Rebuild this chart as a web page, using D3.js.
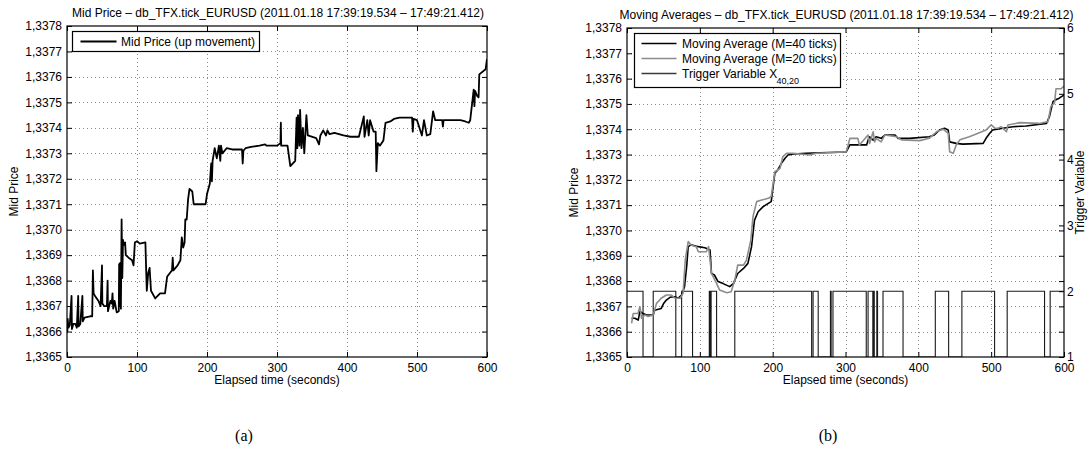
<!DOCTYPE html>
<html><head><meta charset="utf-8">
<script src="https://cdn.jsdelivr.net/npm/d3@7"></script>
<style>
html,body{margin:0;padding:0;background:#fff;}
svg{display:block;font-family:"Liberation Sans",Arial,Helvetica,sans-serif;}
</style></head><body>
<svg id="fig" width="1092" height="459"></svg>
<script>
// ---- tick labels ----
const timeTicks = [0, 100, 200, 300, 400, 500, 600];
const priceTicks = [1.3365, 1.3366, 1.3367, 1.3368, 1.3369, 1.3370, 1.3371, 1.3372, 1.3373, 1.3374, 1.3375, 1.3376, 1.3377, 1.3378];
const triggerTicks = [1, 2, 3, 4, 5, 6];

// ---- (a) mid price, elapsed seconds / price ----
const midTime = [0, 0.5, 1, 2, 4, 6.5, 7, 9, 12, 14, 16, 16.5, 19, 22, 22.5, 25, 33, 36, 37, 38, 40, 45, 48, 50, 50.5, 53, 57, 58, 58.5, 62, 64, 65, 66, 68, 71, 74, 74.5, 75, 76, 77, 78, 79, 80, 81, 83, 84, 88, 93, 95, 97, 100, 104, 112, 113, 114, 116, 118, 120, 126, 133, 140, 143, 147, 150, 151, 152, 158, 160, 162, 164, 166, 168, 169, 171, 173, 175, 179, 181, 193, 198, 200, 204, 206, 207, 208, 211, 214, 217, 219, 220, 222, 228, 236, 250, 251, 252, 255, 263, 275, 283, 285, 300, 305, 305.5, 306, 315, 319, 326, 328, 329, 330, 332, 333, 335, 337, 339, 342, 344, 356, 360, 362, 366, 370, 372, 375, 382, 395, 405, 417, 424, 425, 429, 431, 433, 438, 441, 442, 444, 447, 452, 455, 462, 467, 475, 493, 494, 495, 500, 507, 510, 514, 519, 523, 526, 536, 537, 538, 562, 569, 574, 576, 581, 582, 583, 586, 588, 589, 598, 600];
const midPrice = [1.33663, 1.33660, 1.33665, 1.336615, 1.336625, 1.33674, 1.33661, 1.33663, 1.33663, 1.336615, 1.33674, 1.33662, 1.33663, 1.33674, 1.33664, 1.336655, 1.33666, 1.33666, 1.33684, 1.33675, 1.33674, 1.33672, 1.33670, 1.33686, 1.33671, 1.33670, 1.33670, 1.33680, 1.33668, 1.33672, 1.33671, 1.33675, 1.33669, 1.33672, 1.336675, 1.33668, 1.336865, 1.33670, 1.33687, 1.33669, 1.33704, 1.33681, 1.33696, 1.33694, 1.33695, 1.33690, 1.33689, 1.33688, 1.33686, 1.33695, 1.336955, 1.336945, 1.33695, 1.33685, 1.33676, 1.33683, 1.33685, 1.33676, 1.33673, 1.33675, 1.33675, 1.336815, 1.33683, 1.33684, 1.33689, 1.33684, 1.33686, 1.33687, 1.33688, 1.33697, 1.33693, 1.33695, 1.33704, 1.33704, 1.33712, 1.33716, 1.33715, 1.33710, 1.33710, 1.33710, 1.33714, 1.33718, 1.33726, 1.33719, 1.33727, 1.33732, 1.33728, 1.33733, 1.33727, 1.33733, 1.33730, 1.33732, 1.337315, 1.337315, 1.33726, 1.33731, 1.33732, 1.337325, 1.33733, 1.337335, 1.33733, 1.33733, 1.33734, 1.33742, 1.33733, 1.33733, 1.33725, 1.33727, 1.33744, 1.33732, 1.33745, 1.33733, 1.33747, 1.33732, 1.33740, 1.33730, 1.33745, 1.33737, 1.33736, 1.337335, 1.33737, 1.33739, 1.33737, 1.33739, 1.337375, 1.33738, 1.33737, 1.337365, 1.337365, 1.337445, 1.337365, 1.33743, 1.33737, 1.33743, 1.337385, 1.337385, 1.33723, 1.33734, 1.33733, 1.33735, 1.33742, 1.337425, 1.337435, 1.33744, 1.33744, 1.337385, 1.337435, 1.33743, 1.33737, 1.33743, 1.33737, 1.337375, 1.337465, 1.33743, 1.33743, 1.337405, 1.33743, 1.33743, 1.337425, 1.33742, 1.33743, 1.33755, 1.337485, 1.337545, 1.337525, 1.33752, 1.33761, 1.33763, 1.33767];

// ---- (b) moving averages ----
const ma40Time = [6.3, 10.8, 15.4, 17.7, 22, 27, 36, 38, 47, 50, 54, 59, 66, 70, 75, 79, 82, 84, 88, 98, 107, 114, 116, 120, 125, 132, 141, 146, 152, 160, 166, 171, 175, 180, 187, 194, 198, 203, 207, 212, 217, 221, 228, 246, 265, 301, 306, 329, 331, 333, 338, 342, 349, 354, 368, 372, 388, 415, 422, 429, 436, 441, 443, 452, 461, 489, 493, 498, 502, 516, 530, 548, 576, 580, 585, 589, 592, 596, 600];
const ma40Value = [1.336653, 1.336653, 1.336646, 1.33668, 1.336672, 1.336666, 1.336666, 1.336685, 1.336692, 1.33671, 1.336725, 1.336736, 1.336738, 1.336732, 1.336745, 1.336778, 1.33686, 1.336936, 1.336943, 1.336936, 1.336932, 1.336923, 1.33683, 1.336824, 1.336798, 1.33679, 1.336778, 1.33679, 1.33683, 1.33685, 1.33687, 1.336936, 1.33704, 1.337074, 1.337094, 1.337107, 1.337114, 1.337226, 1.337239, 1.337265, 1.337285, 1.337298, 1.337302, 1.337305, 1.337307, 1.33731, 1.337338, 1.337338, 1.337357, 1.33737, 1.337357, 1.33737, 1.337364, 1.337377, 1.337377, 1.337364, 1.337364, 1.33737, 1.337377, 1.337397, 1.337404, 1.337397, 1.33735, 1.337344, 1.337341, 1.337344, 1.337364, 1.337384, 1.337397, 1.337404, 1.33741, 1.337413, 1.337423, 1.33745, 1.33751, 1.337517, 1.33752, 1.337528, 1.337535];
const ma20Time = [6.3, 8.6, 15, 17.7, 20, 24.6, 29, 36, 40.5, 47, 54, 61, 66, 73, 77, 80, 84, 88, 95, 98, 109, 112, 116, 123, 127, 137, 143, 148, 152, 160, 164, 170, 173, 178, 185, 194, 198, 203, 210, 214, 219, 228, 251, 260, 301, 306, 317, 319, 331, 333, 338, 340, 342, 349, 354, 370, 377, 402, 415, 425, 434, 441, 443, 448, 452, 457, 470, 482, 493, 500, 505, 509, 514, 521, 523, 539, 566, 578, 582, 587, 589, 596, 600];
const ma20Value = [1.336633, 1.336672, 1.336672, 1.336699, 1.336653, 1.336666, 1.33666, 1.336666, 1.336712, 1.336732, 1.336745, 1.336745, 1.336732, 1.336732, 1.336752, 1.336883, 1.336956, 1.336943, 1.336936, 1.336916, 1.336916, 1.336936, 1.33683, 1.336791, 1.336765, 1.336754, 1.336758, 1.336804, 1.336863, 1.336863, 1.336883, 1.336962, 1.337055, 1.337114, 1.33712, 1.337127, 1.337134, 1.337232, 1.337245, 1.337292, 1.337305, 1.337305, 1.337298, 1.337305, 1.33731, 1.337364, 1.337364, 1.337338, 1.337377, 1.337344, 1.33739, 1.33735, 1.337364, 1.33735, 1.337377, 1.33737, 1.337358, 1.337355, 1.337364, 1.33739, 1.3374, 1.337384, 1.337311, 1.337305, 1.337338, 1.337358, 1.33737, 1.337384, 1.337397, 1.337417, 1.337404, 1.337404, 1.33741, 1.33739, 1.337417, 1.337426, 1.337423, 1.33743, 1.33749, 1.337504, 1.33756, 1.33756, 1.33757];

// trigger variable: value holds from each time until the next one
const triggerTime = [0, 22, 36, 67, 75, 90, 113, 114, 115.5, 123, 148, 253.5, 255.5, 262.5, 279.3, 280.3, 282.8, 328.5, 331, 337.5, 338.5, 339.5, 343, 344, 351.5, 379, 423.3, 441.6, 459.8, 504.7, 522, 573.3, 581, 600];
const triggerValue = [2, 1, 2, 1, 2, 1, 2, 1, 2, 1, 2, 1, 2, 1, 2, 1, 2, 1, 2, 1, 2, 1, 2, 1, 2, 1, 2, 1, 2, 1, 2, 1, 2, 2];

const TITLE_RANGE = "db_TFX.tick_EURUSD (2011.01.18 17:39:19.534 \u2013 17:49:21.412)";

const svg = d3.select("#fig");
const fmtPrice = v => d3.format(".4f")(v).replace(".", ",");
const FS = 12;
const LFS = 12;

function panel(box, title, id) {
  const g = svg.append("g");
  const x = d3.scaleLinear().domain([0, 600]).range([box.left, box.right]);
  const y = d3.scaleLinear().domain([1.3365, 1.3378]).range([box.bottom, box.top]);

  g.append("clipPath").attr("id", id).append("rect")
    .attr("x", box.left).attr("y", box.top)
    .attr("width", box.right - box.left).attr("height", box.bottom - box.top);

  // dotted grid
  const grid = g.append("g").attr("stroke", "#8a8a8a").attr("stroke-width", 1).attr("stroke-dasharray", "1,3");
  grid.selectAll(".gx").data(timeTicks.slice(1, -1)).join("line")
    .attr("x1", d => Math.round(x(d)) + 0.5).attr("x2", d => Math.round(x(d)) + 0.5)
    .attr("y1", box.top).attr("y2", box.bottom);
  grid.selectAll(".gy").data(priceTicks.slice(1, -1)).join("line")
    .attr("y1", d => Math.round(y(d)) + 0.5).attr("y2", d => Math.round(y(d)) + 0.5)
    .attr("x1", box.left).attr("x2", box.right);

  // axes with inward ticks
  const styleAxis = sel => {
    sel.select(".domain").remove();
    sel.selectAll("text").attr("font-size", FS).attr("font-family", "Liberation Sans, Arial, sans-serif").attr("fill", "#000");
    sel.selectAll("line").attr("stroke", "#000");
  };
  g.append("g").attr("transform", `translate(${box.left},0)`)
    .call(d3.axisLeft(y).tickValues(priceTicks).tickFormat(fmtPrice).tickSizeInner(-5).tickSizeOuter(0).tickPadding(5))
    .call(styleAxis);
  g.append("g").attr("transform", `translate(${box.right},0)`)
    .call(d3.axisRight(y).tickValues(priceTicks).tickFormat("").tickSizeInner(-5).tickSizeOuter(0))
    .call(styleAxis);
  g.append("g").attr("transform", `translate(0,${box.bottom})`)
    .call(d3.axisBottom(x).tickValues(timeTicks).tickFormat(d3.format("d")).tickSizeInner(-5).tickSizeOuter(0).tickPadding(6))
    .call(styleAxis);
  g.append("g").attr("transform", `translate(0,${box.top})`)
    .call(d3.axisTop(x).tickValues(timeTicks).tickFormat("").tickSizeInner(-5).tickSizeOuter(0))
    .call(styleAxis);

  // title and axis labels
  g.append("text").attr("x", (box.left + box.right) / 2 + 1).attr("y", box.top - 9)
    .attr("text-anchor", "middle").attr("font-size", LFS).text(title);
  g.append("text").attr("x", (box.left + box.right) / 2).attr("y", box.bottom + 27)
    .attr("text-anchor", "middle").attr("font-size", LFS).text("Elapsed time (seconds)");
  g.append("text").attr("transform", `translate(${box.left - 49},${(box.top + box.bottom) / 2}) rotate(-90)`)
    .attr("text-anchor", "middle").attr("font-size", LFS).text("Mid Price");

  return {g, x, y};
}

function frame(g, box) {
  g.append("rect").attr("x", box.left).attr("y", box.top)
    .attr("width", box.right - box.left).attr("height", box.bottom - box.top)
    .attr("fill", "none").attr("stroke", "#000").attr("stroke-width", 1.2);
}

// ---------- panel (a) ----------
const boxA = {left: 67, right: 487, top: 26, bottom: 357};
const A = panel(boxA, "Mid Price \u2013 " + TITLE_RANGE, "clipA");
const lineA = d3.line().x(d => A.x(d[0])).y(d => A.y(d[1]));
A.g.append("path").datum(d3.zip(midTime, midPrice))
  .attr("clip-path", "url(#clipA)")
  .attr("fill", "none").attr("stroke", "#000").attr("stroke-width", 1.8).attr("stroke-linejoin", "round")
  .attr("d", lineA);
frame(A.g, boxA);

// legend (a)
{
  const lg = A.g.append("g");
  lg.append("rect").attr("x", 72.5).attr("y", 31.5).attr("width", 187).attr("height", 20)
    .attr("fill", "#fff").attr("stroke", "#000").attr("stroke-width", 1.2);
  lg.append("line").attr("x1", 80.5).attr("x2", 116.5).attr("y1", 41.5).attr("y2", 41.5)
    .attr("stroke", "#000").attr("stroke-width", 1.8);
  lg.append("text").attr("x", 121).attr("y", 45.5).attr("font-size", FS).text("Mid Price (up movement)");
}

// ---------- panel (b) ----------
const boxB = {left: 627, right: 1064, top: 28, bottom: 357};
const B = panel(boxB, "Moving Averages \u2013 " + TITLE_RANGE, "clipB");
const yT = d3.scaleLinear().domain([1, 6]).range([boxB.bottom, boxB.top]);

// trigger variable on the right axis
B.g.append("path").datum(d3.zip(triggerTime, triggerValue))
  .attr("clip-path", "url(#clipB)")
  .attr("fill", "none").attr("stroke", "#1a1a1a").attr("stroke-width", 1.1)
  .attr("d", d3.line().curve(d3.curveStepAfter).x(d => B.x(d[0])).y(d => yT(d[1])));

const lineB = d3.line().x(d => B.x(d[0])).y(d => B.y(d[1]));
B.g.append("path").datum(d3.zip(ma40Time, ma40Value))
  .attr("clip-path", "url(#clipB)")
  .attr("fill", "none").attr("stroke", "#000").attr("stroke-width", 1.6).attr("stroke-linejoin", "round")
  .attr("d", lineB);
B.g.append("path").datum(d3.zip(ma20Time, ma20Value))
  .attr("clip-path", "url(#clipB)")
  .attr("fill", "none").attr("stroke", "#8c8c8c").attr("stroke-width", 1.6).attr("stroke-linejoin", "round")
  .attr("d", lineB);

// right axis
B.g.append("g").attr("transform", `translate(${boxB.right},0)`)
  .call(d3.axisRight(yT).tickValues(triggerTicks).tickFormat(d3.format("d")).tickSizeInner(-5).tickSizeOuter(0).tickPadding(3))
  .call(sel => {
    sel.select(".domain").remove();
    sel.selectAll("text").attr("font-size", FS).attr("font-family", "Liberation Sans, Arial, sans-serif").attr("fill", "#000");
    sel.selectAll("line").attr("stroke", "#000");
  });
B.g.append("text").attr("transform", `translate(${boxB.right + 20},${(boxB.top + boxB.bottom) / 2}) rotate(-90)`)
  .attr("text-anchor", "middle").attr("font-size", LFS).text("Trigger Variable");
frame(B.g, boxB);

// legend (b)
{
  const lg = B.g.append("g");
  lg.append("rect").attr("x", 634.5).attr("y", 33.5).attr("width", 206).attr("height", 54)
    .attr("fill", "#fff").attr("stroke", "#000").attr("stroke-width", 1.2);
  const items = [
    {label: "Moving Average (M=40 ticks)", color: "#000"},
    {label: "Moving Average (M=20 ticks)", color: "#8c8c8c"},
    {label: "Trigger Variable X", color: "#3a3a3a", sub: "40,20"}
  ];
  items.forEach((it, i) => {
    const yy = 43.5 + i * 15;
    lg.append("line").attr("x1", 641.5).attr("x2", 676.5).attr("y1", yy).attr("y2", yy)
      .attr("stroke", it.color).attr("stroke-width", 1.6);
    const t = lg.append("text").attr("x", 682).attr("y", yy + 4.2).attr("font-size", FS).text(it.label);
    if (it.sub) t.append("tspan").attr("font-size", 9).attr("dy", 6).attr("dx", -1).text(it.sub);
  });
}

// subfigure captions
svg.append("text").attr("x", 244).attr("y", 441).attr("text-anchor", "middle")
  .attr("font-family", "Liberation Serif, DejaVu Serif, serif").attr("font-size", 16).text("(a)");
svg.append("text").attr("x", 828).attr("y", 441).attr("text-anchor", "middle")
  .attr("font-family", "Liberation Serif, DejaVu Serif, serif").attr("font-size", 16).text("(b)");
</script>
</body></html>
